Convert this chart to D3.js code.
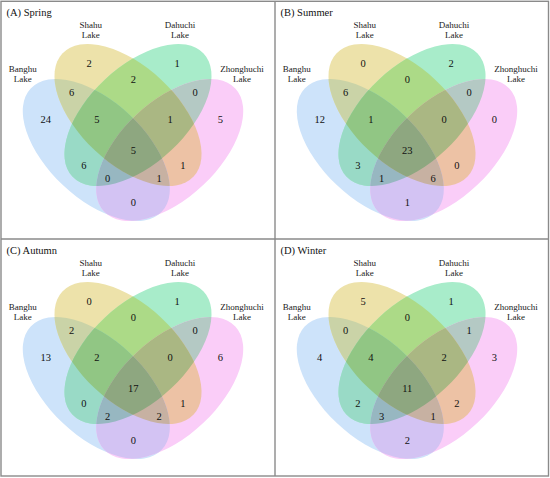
<!DOCTYPE html>
<html>
<head>
<meta charset="utf-8">
<script src="https://cdn.jsdelivr.net/npm/d3@7/dist/d3.min.js"></script>
<style>
  html, body { margin: 0; padding: 0; background: #fff; }
  svg { display: block; }
  .num { font-family: "Liberation Serif", "Times New Roman", serif; font-size: 10.5px; fill: #111; }
  .setname { font-family: "Liberation Serif", "Times New Roman", serif; font-size: 9px; fill: #222; }
  .title { font-family: "Liberation Serif", "Times New Roman", serif; font-size: 10.5px; fill: #111; }
</style>
</head>
<body>
<div id="chart"></div>
<script>
// ---------- data ----------
const panelTitles = ["(A) Spring", "(B) Summer", "(C) Autumn", "(D) Winter"];
const setNames = [["Banghu", "Lake"], ["Shahu", "Lake"], ["Dahuchi", "Lake"], ["Zhonghuchi", "Lake"]];
const setLetters = ["B", "S", "D", "Z"];
// region order: B, S, D, Z, B∩S, S∩D, D∩Z, B∩S∩D, S∩D∩Z, B∩S∩D∩Z, B∩D, S∩Z, B∩D∩Z, B∩S∩Z, B∩Z
const regionKeys = ["B", "S", "D", "Z", "BS", "SD", "DZ", "BSD", "SDZ", "BSDZ", "BD", "SZ", "BDZ", "BSZ", "BZ"];
const springCounts = [24, 2, 1, 5, 6, 2, 0, 5, 1, 5, 6, 1, 0, 1, 0];
const summerCounts = [12, 0, 2, 0, 6, 0, 0, 1, 0, 23, 3, 0, 1, 6, 1];
const autumnCounts = [13, 0, 1, 6, 2, 0, 0, 2, 0, 17, 0, 1, 2, 2, 0];
const winterCounts = [4, 5, 1, 3, 0, 0, 1, 4, 2, 11, 2, 2, 3, 1, 2];
const seasonCounts = [springCounts, summerCounts, autumnCounts, winterCounts];
const setColors = ["#cde3fa", "#ede2aa", "#a8ecca", "#facdf8"];
const blendGamma = [0.8, 0.8, 1.0];

// ---------- layout (panel-local units) ----------
const W = 550, H = 478;
const panelOrigins = [[0, 0], [274, 0], [0, 238], [274, 238]];
const ellipses = [ // cx, cy, rx, ry, angle
  { cx: 96.3, cy: 150, rx: 90, ry: 48.5, angle: 43.2 },
  { cx: 128, cy: 115, rx: 90, ry: 48.5, angle: 43.2 },
  { cx: 138, cy: 115, rx: 90, ry: 48.5, angle: -43.2 },
  { cx: 169.7, cy: 150, rx: 90, ry: 48.5, angle: -43.2 }
];
const regionPos = {
  B: [45.7, 119.5], S: [89, 63.5], D: [177, 63.5], Z: [220.3, 119.5],
  BS: [71.5, 92.3], SD: [133.3, 79.3], DZ: [195, 92.3],
  BSD: [96.8, 119.5], SDZ: [170, 119.5], BSDZ: [133.3, 150],
  BD: [83.8, 165], SZ: [182.8, 165], BDZ: [107.5, 178.8], BSZ: [159.2, 178.8],
  BZ: [133.3, 202.5]
};
const namePos = [[22.7, 69], [90.7, 25], [180, 25], [242, 69]];

function regionColor(sets) {
  const g = sets.length > 1 ? blendGamma : [1, 1, 1];
  const ch = [1, 1, 1];
  sets.forEach(j => {
    const c = d3.rgb(setColors[j]);
    ch[0] *= Math.pow(c.r / 255, g[0]);
    ch[1] *= Math.pow(c.g / 255, g[1]);
    ch[2] *= Math.pow(c.b / 255, g[2]);
  });
  return d3.rgb(ch[0] * 255, ch[1] * 255, ch[2] * 255).formatHex();
}

const regionSets = regionKeys.map(k => k.split("").map(c => setLetters.indexOf(c)));
const paintOrder = d3.range(regionKeys.length).sort((a, b) => regionSets[a].length - regionSets[b].length || a - b);

const svg = d3.select("#chart").append("svg").attr("width", W).attr("height", H);
svg.append("rect").attr("width", W).attr("height", H).attr("fill", "#fff");
const defs = svg.append("defs");

panelTitles.forEach((title, i) => {
  const [ox, oy] = panelOrigins[i];
  const x = d3.scaleLinear().domain([0, 275]).range([ox, ox + 275]);
  const y = d3.scaleLinear().domain([0, 238]).range([oy, oy + 238]);
  const ellAttrs = sel => sel
    .attr("cx", d => x(d.cx)).attr("cy", d => y(d.cy))
    .attr("rx", d => d.rx).attr("ry", d => d.ry)
    .attr("transform", d => `rotate(${d.angle} ${x(d.cx)} ${y(d.cy)})`);

  ellipses.forEach((e, j) => {
    defs.append("clipPath").attr("id", `clip-${i}-${j}`)
      .append("ellipse").datum(e).call(ellAttrs);
  });

  const g = svg.append("g");
  paintOrder.forEach(r => {
    const sets = regionSets[r];
    let parent = g;
    sets.slice(0, -1).forEach(j => {
      parent = parent.append("g").attr("clip-path", `url(#clip-${i}-${j})`);
    });
    const last = sets[sets.length - 1];
    parent.append("ellipse").datum(ellipses[last]).call(ellAttrs)
      .attr("fill", regionColor(sets));
  });

  const counts = seasonCounts[i];
  g.selectAll("text.num").data(regionKeys).join("text")
    .attr("class", "num")
    .attr("x", k => x(regionPos[k][0]))
    .attr("y", k => y(regionPos[k][1]))
    .attr("dy", "0.35em")
    .attr("text-anchor", "middle")
    .text((k, j) => counts[j]);

  setNames.forEach((nm, j) => {
    const t = g.append("text").attr("class", "setname").attr("text-anchor", "middle");
    nm.forEach((line, li) => {
      t.append("tspan").attr("x", x(namePos[j][0])).attr("y", y(namePos[j][1] + li * 9.6)).attr("dy", "0.35em").text(line);
    });
  });

  g.append("text").attr("class", "title").attr("x", x(6.5)).attr("y", y(15.5)).text(title);
});

// borders
svg.append("rect").attr("x", 1).attr("y", 1.3).attr("width", 547.5).attr("height", 474.7)
  .attr("fill", "none").attr("stroke", "#8a8a8a").attr("stroke-width", 1.4);
svg.append("line").attr("x1", 275).attr("x2", 275).attr("y1", 1).attr("y2", 476)
  .attr("stroke", "#8a8a8a").attr("stroke-width", 1.4);
svg.append("line").attr("x1", 1).attr("x2", 548.5).attr("y1", 239).attr("y2", 239)
  .attr("stroke", "#8a8a8a").attr("stroke-width", 1.4);
</script>
</body>
</html>
